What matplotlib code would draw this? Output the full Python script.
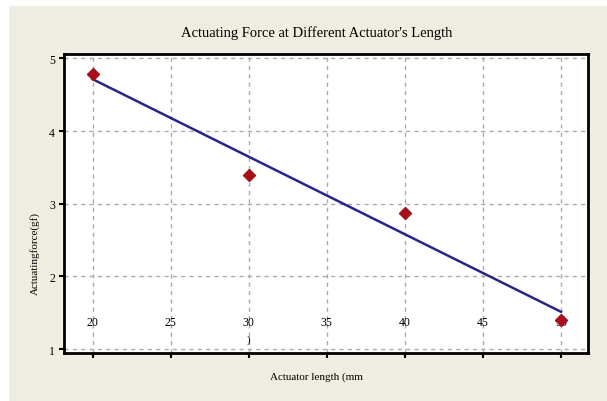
"""Actuating force vs actuator length, with least-squares line."""

import numpy as np
import matplotlib
matplotlib.use("Agg")
import matplotlib.pyplot as plt
from matplotlib.patches import Rectangle

# Data
lengths = [20, 30, 40, 50]
forces = [4.78, 3.40, 2.87, 1.40]
x_ticks = [20, 25, 30, 35, 40, 45, 50]
y_ticks = [1, 2, 3, 4, 5]

TITLE = "Actuating Force at Different Actuator's Length"
XLABEL = "Actuator length (mm"
YLABEL = "Actuatingforce(gf)"

BEIGE = "#efede1"
SERIF = ["Liberation Serif", "DejaVu Serif"]


def main() -> None:
    plt.rcParams["font.family"] = SERIF

    fig = plt.figure(figsize=(6.07, 4.02), dpi=100, facecolor="white")
    # beige panel with a thin white margin on the left and top
    fig.patches.append(Rectangle((9 / 607, 0), 1, 1 - 7 / 402, transform=fig.transFigure,
                                 facecolor=BEIGE, edgecolor="none", zorder=-10))

    ax = fig.add_axes([0.1054, 0.1194, 0.8633, 0.7438])
    ax.set_facecolor("white")

    # least-squares fit line between first and last length
    slope, icpt = np.polyfit(lengths, forces, 1)
    fit_x = np.array([lengths[0], lengths[-1]])
    ax.plot(fit_x, slope * fit_x + icpt, color="#26268a", lw=1.8, zorder=3)
    ax.plot(lengths, forces, linestyle="none", marker="D", ms=6.3,
            color="#a80f1a", mec="#a80f1a", zorder=4)

    ax.set_xlim(18.16, 51.73)
    ax.set_ylim(0.945, 5.06)
    ax.set_xticks(x_ticks)
    ax.set_yticks(y_ticks)

    ax.grid(True, color="#aaaaaa", linestyle=(0, (3, 3)), linewidth=1.0)
    ax.set_axisbelow(True)
    for sp in ax.spines.values():
        sp.set_linewidth(2.0)
        sp.set_color("black")

    ax.tick_params(axis="both", direction="out", length=3.5, width=1.5, labelsize=8.5)
    # x tick labels sit inside the plot area, above the bottom spine
    ax.tick_params(axis="x", pad=-30)
    ax.tick_params(axis="y", pad=3)

    # stray closing bracket of the axis label in the original
    ax.text(30, 1.13, ")", ha="center", va="center", fontsize=8)

    fig.text(0.522, 0.918, TITLE, ha="center", va="center", fontsize=10.5)
    fig.text(0.522, 0.062, XLABEL, ha="center", va="center", fontsize=8)
    fig.text(0.057, 0.37, YLABEL, ha="center", va="center", rotation=90, fontsize=8)

    fig.savefig("out.png", dpi=100, facecolor=fig.get_facecolor())


if __name__ == "__main__":
    main()
